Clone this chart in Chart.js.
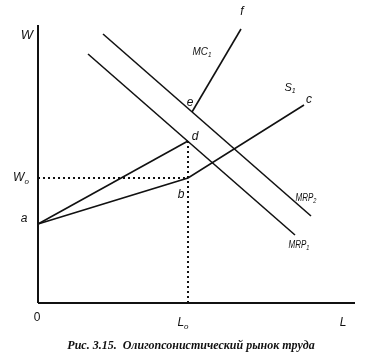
<!DOCTYPE html>
<html lang="ru">
<head>
    <meta charset="UTF-8">
    <title>Олигопсонистический рынок труда</title>
    <script src="https://cdn.jsdelivr.net/npm/chart.js"></script>
    <style>
        body { margin: 0; background: #fff; }
        #wrap { width: 369px; height: 360px; }
    </style>
</head>
<body>
    <div id="wrap"><canvas id="chart"></canvas></div>

    <script>
        // Точки кривых (единицы условные: L по горизонтали, W по вертикали)
        const supplyL = [0, 150, 266];          // S1: a - b - c
        const supplyW = [79, 125, 198];
        const mcLowL = [0, 150];                 // MC1: a - d
        const mcLowW = [79, 162];
        const mcHighL = [154, 203];              // MC1: e - f
        const mcHighW = [191, 274];
        const mrp1L = [50, 257];
        const mrp1W = [249, 68];
        const mrp2L = [65, 273];
        const mrp2W = [269, 87];
        const L0 = 150;
        const W0 = 125;
        const axisMaxL = 317;
        const axisMaxW = 278;

        const pts = (xs, ys) => xs.map((x, i) => ({ x: x, y: ys[i] }));

        const solid = (data, w) => ({
            data: data, showLine: true, borderColor: '#111', borderWidth: w || 1.6,
            pointRadius: 0, fill: false, clip: false
        });
        const dotted = (data) => ({
            data: data, showLine: true, borderColor: '#111', borderWidth: 2,
            borderDash: [2, 3], pointRadius: 0, fill: false, clip: false
        });

        // Подписи: [текст, индекс, L, W, размер, курсив, сжатие]
        const labels = [
            ['W', '', -11, 268, 13, true, 1],
            ['W', 'o', -17, 125, 12, true, 1],
            ['a', '', -14, 84, 12, true, 1],
            ['0', '', -1, -15, 12, false, 1],
            ['L', 'o', 145, -20, 12, true, 1],
            ['L', '', 305, -20, 12, true, 1],
            ['b', '', 143, 108, 12, true, 1],
            ['d', '', 157, 166, 12, true, 1],
            ['e', '', 152, 200, 12, true, 1],
            ['f', '', 204, 291, 12, true, 1],
            ['MC', '1', 164, 251, 11, true, 0.9],
            ['S', '1', 252, 215, 11, true, 1],
            ['c', '', 271, 203, 12, true, 1],
            ['MRP', '2', 268, 105, 10, true, 0.8],
            ['MRP', '1', 261, 58, 10, true, 0.8]
        ];
        const caption = 'Рис. 3.15.  Олигопсонистический рынок труда';

        const labelPlugin = {
            id: 'labels',
            afterDraw(chart) {
                const ctx = chart.ctx;
                const sx = chart.scales.x, sy = chart.scales.y;
                ctx.save();
                ctx.fillStyle = '#111';
                ctx.textBaseline = 'middle';
                ctx.textAlign = 'left';
                labels.forEach(([t, sub, l, w, size, it, k]) => {
                    const px = sx.getPixelForValue(l);
                    const py = sy.getPixelForValue(w);
                    const big = (it ? 'italic ' : '') + size + 'px "Liberation Sans"';
                    const small = (it ? 'italic ' : '') + Math.round(size * 0.65) + 'px "Liberation Sans"';
                    ctx.font = big;
                    const tw = ctx.measureText(t).width;
                    ctx.font = small;
                    const subW = sub ? ctx.measureText(sub).width : 0;
                    ctx.save();
                    ctx.translate(px - (tw + subW) * k / 2, py);
                    ctx.scale(k, 1);
                    ctx.font = big;
                    ctx.fillText(t, 0, 0);
                    if (sub) {
                        ctx.font = small;
                        ctx.fillText(sub, tw, size * 0.3);
                    }
                    ctx.restore();
                });
                ctx.font = 'italic bold 12px "Liberation Serif"';
                ctx.textAlign = 'center';
                ctx.fillText(caption, 191, 346);
                ctx.restore();
            }
        };

        const ctx = document.getElementById('chart').getContext('2d');
        new Chart(ctx, {
            type: 'scatter',
            data: {
                datasets: [
                    solid(pts([0, 0], [0, axisMaxW]), 2),
                    solid(pts([0, axisMaxL], [0, 0]), 2),
                    dotted(pts([0, L0], [W0, W0])),
                    dotted(pts([L0, L0], [mcLowW[1], 0])),
                    solid(pts(supplyL, supplyW)),
                    solid(pts(mcLowL, mcLowW)),
                    solid(pts(mcHighL, mcHighW)),
                    solid(pts(mrp1L, mrp1W)),
                    solid(pts(mrp2L, mrp2W))
                ]
            },
            options: {
                responsive: true,
                maintainAspectRatio: false,
                animation: false,
                layout: { padding: { left: 38, right: 14, top: 25, bottom: 57 } },
                plugins: { legend: { display: false }, tooltip: { enabled: false } },
                scales: {
                    x: { type: 'linear', min: 0, max: axisMaxL, display: false },
                    y: { type: 'linear', min: 0, max: axisMaxW, display: false }
                }
            },
            plugins: [labelPlugin]
        });
    </script>
</body>
</html>
